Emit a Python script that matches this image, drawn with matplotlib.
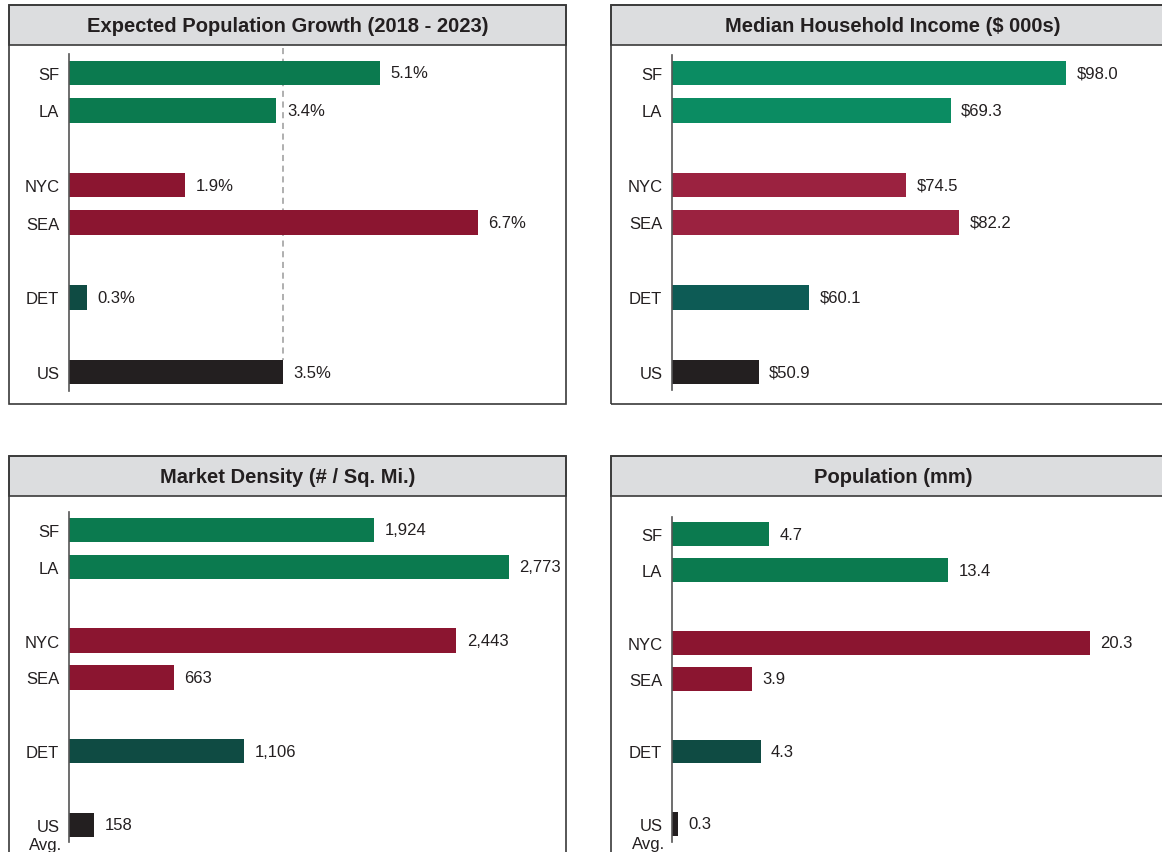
import matplotlib
matplotlib.use("Agg")
from matplotlib import pyplot as plt
from matplotlib.patches import Rectangle

plt.rcParams["font.family"] = ["Liberation Sans", "DejaVu Sans"]

# data
cities = ["SF", "LA", "NYC", "SEA", "DET", "US"]
slots = [0, 1, 3, 4, 6, 8]

growth = [5.1, 3.4, 1.9, 6.7, 0.3, 3.5]
income = [98.0, 69.3, 74.5, 82.2, 60.1, 50.9]
# the source draws the income bars off-scale; lengths
income_bar = [98.0, 69.3, 58.2, 71.4, 34.1, 21.6]
density = [1924, 2773, 2443, 663, 1106, 158]
population = [4.7, 13.4, 20.3, 3.9, 4.3, 0.3]

titles = ["Expected Population Growth (2018 - 2023)",
          "Median Household Income ($ 000s)",
          "Market Density (# / Sq. Mi.)",
          "Population (mm)"]

colors_a = ["#0b7a4f", "#0b7a4f", "#8b1530", "#8b1530", "#0f4b43", "#231f20"]
colors_b = ["#0b8c62", "#0b8c62", "#9b2240", "#9b2240", "#0d5b55", "#231f20"]

W, H = 1162, 853
fig = plt.figure(figsize=(W / 100, H / 100), dpi=100)


def fx(x):
    return x / W


def fy(y):
    return 1 - y / H


def draw_box(x0, y0, x1, y1, band):
    # title band + outline, in pixel coords
    fig.add_artist(Rectangle((fx(x0), fy(y0 + band)), fx(x1) - fx(x0), fy(y0) - fy(y0 + band),
                             transform=fig.transFigure, facecolor="#dcdddf",
                             edgecolor="#3a3a3a", lw=1.2))
    fig.add_artist(Rectangle((fx(x0), fy(y1)), fx(x1) - fx(x0), fy(y0) - fy(y1),
                             transform=fig.transFigure, facecolor="none",
                             edgecolor="#3a3a3a", lw=1.2))


def panel(box, title, vals, fmt, colors, axis_x, spine, pos0, pos8, scale,
          lengths=None, avg=False, ref=None):
    x0, y0, x1, y1 = box
    draw_box(x0, y0, x1, y1, 40)
    fig.text(fx((x0 + x1) / 2), fy(y0 + 20.5), title,
             ha="center", va="center", fontsize=14.5, fontweight="bold", color="#231f20")

    if lengths is None:
        lengths = vals
    step = (pos8 - pos0) / 8
    top, bot = spine
    right = x1 - 6
    ax = fig.add_axes([fx(axis_x), fy(bot), fx(right) - fx(axis_x), fy(top) - fy(bot)])
    ax.set_xlim(0, (right - axis_x) / scale)
    ax.set_ylim((bot - pos0) / step, (top - pos0) / step)
    ax.patch.set_alpha(0)

    ax.barh(slots, lengths, height=0.66, color=colors)
    for s, v, l in zip(slots, vals, lengths):
        ax.annotate(fmt.format(v), (l, s), xytext=(7.5, 0), textcoords="offset points",
                    ha="left", va="center", fontsize=12, color="#231f20")

    if ref is not None:
        ax.plot([ref, ref], [ax.get_ylim()[1] - 0.15, slots[-1] - 0.33], ls=(0, (4, 3)),
                color="#9a9a9a", lw=1.1, zorder=0, clip_on=False)

    ax.set_yticks(slots)
    ax.set_yticklabels(cities, fontsize=12, color="#231f20")
    ax.tick_params(axis="y", length=0, pad=7)
    ax.set_xticks([])
    for sp in ["top", "right", "bottom"]:
        ax.spines[sp].set_visible(False)
    ax.spines["left"].set_color("#555555")
    ax.spines["left"].set_linewidth(1.2)

    if avg:
        ax.annotate("Avg.", (0, slots[-1]), xytext=(-5, -14), textcoords="offset points",
                    ha="right", va="center", fontsize=12, color="#231f20",
                    annotation_clip=False)
    return ax


panel((9, 6, 566, 405), titles[0], growth, "{:.1f}%", colors_a,
      69, (55, 392), 74, 373, 61.0, ref=growth[-1])
panel((611, 6, 1175, 405), titles[1], income, "${:.1f}", colors_b,
      672, (56, 391), 74, 373, 4.02, lengths=income_bar)
panel((9, 457, 566, 880), titles[2], density, "{:,.0f}", colors_a,
      69, (513, 843), 531, 826, 0.1585, avg=True)
panel((611, 457, 1175, 880), titles[3], population, "{:.1f}", colors_a,
      672, (518, 843), 535, 825, 20.6, avg=True)

plt.savefig("out.png", dpi=100)
